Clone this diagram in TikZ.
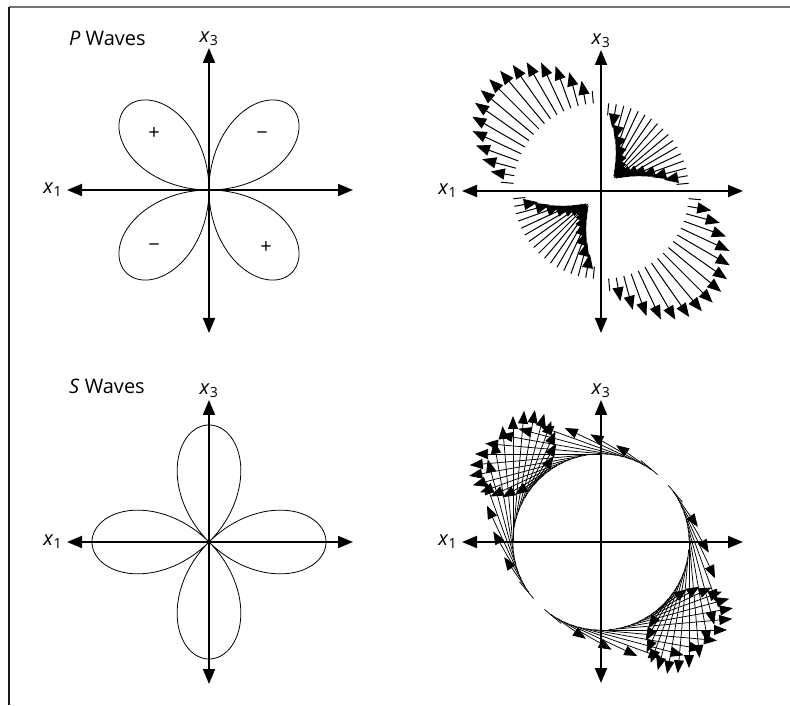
\documentclass[tikz,border=0pt]{standalone}
\usepackage{fontspec}
\setmainfont{Open Sans}
\usetikzlibrary{arrows.meta}

\tikzset{
  eje/.style={line width=1.9pt, {Triangle[length=15pt,width=12pt]}-{Triangle[length=15pt,width=12pt]}},
  lobulo/.style={line width=0.8pt},
  flecha/.style={line width=1pt, -{Triangle[length=14pt,width=11pt]}},
  trazo/.style={line width=1pt},
  flechaS/.style={line width=0.75pt, -{Triangle[length=13pt,width=10pt]}},
  trazoS/.style={line width=0.75pt},
  etiqueta/.style={font=\fontsize{20}{24}\selectfont, inner sep=1pt},
  signo/.style={font=\fontsize{20}{24}\selectfont, inner sep=0pt},
}

\begin{document}
\begin{tikzpicture}[x=1pt,y=1pt]
            \useasboundingbox (0,0) rectangle (790,705);
            % Marco
            \draw[line width=2pt,black!55] (9,698) -- (790,698);
            \draw[line width=1.6pt,black!90] (9,698) -- (9,0);
            % Ondas P: lobulos
            \begin{scope}[shift={(209,515)}]
                \draw[eje] (144,0) -- (-142,0) node (x1a) [etiqueta,left=3pt] {\textit{x}\textsubscript{1}};
                \draw[eje] (0,-143) -- (0,142) node (x3a) [etiqueta,above=0pt] {\textit{x}\textsubscript{3}};
                \draw[lobulo] plot[domain=0:360,samples=721,smooth] (\x:{117*abs(sin(2*\x))});
                \node (masA) [signo] at (-55,56) {+};
                \node (menosA) [signo] at (53,54) {−};
                \node (menosB) [signo] at (-55,-58) {−};
                \node (masB) [signo] at (57,-58) {+};
                \node (tituloP) [etiqueta,anchor=west] at (-141,152) {\textit{P} Waves};
            \end{scope}
            % Ondas P: desplazamientos
            \begin{scope}[shift={(601,514)}]
                \draw[eje] (142,0) -- (-139,0) node (x1b) [etiqueta,left=3pt] {\textit{x}\textsubscript{1}};
                \draw[eje] (0,-142) -- (0,141) node (x3b) [etiqueta,above=0pt] {\textit{x}\textsubscript{3}};
                \foreach \a in {0,5,...,355}{
                    \pgfmathsetmacro{\m}{-sin(2*\a)}
                    \pgfmathtruncatemacro{\punta}{abs(\m)>0.25}
                    \ifnum\punta=1
                        \draw[flecha] (\a:88) -- (\a:{88+70*\m});
                    \else
                        \draw[trazo] (\a:88) -- (\a:{88+70*\m});
                    \fi
                }
            \end{scope}
            % Ondas S: lobulos
            \begin{scope}[shift={(209,163)}]
                \draw[eje] (144,0) -- (-142,0) node (x1c) [etiqueta,left=3pt] {\textit{x}\textsubscript{1}};
                \draw[eje] (0,-142) -- (0,142) node (x3c) [etiqueta,above=0pt] {\textit{x}\textsubscript{3}};
                \draw[lobulo] plot[domain=0:360,samples=721,smooth] (\x:{117*abs(cos(2*\x))});
                \node (tituloS) [etiqueta,anchor=west] at (-141,156) {\textit{S} Waves};
            \end{scope}
            % Ondas S: desplazamientos
            \begin{scope}[shift={(601,163)}]
                \draw[eje] (142,0) -- (-139,0) node (x1d) [etiqueta,left=3pt] {\textit{x}\textsubscript{1}};
                \draw[eje] (0,-141) -- (0,142) node (x3d) [etiqueta,above=0pt] {\textit{x}\textsubscript{3}};
                \foreach \a in {0,5,...,355}{
                    \pgfmathsetmacro{\m}{-cos(2*\a)}
                    \pgfmathtruncatemacro{\punta}{abs(\m)>0.25}
                    \ifnum\punta=1
                        \draw[flechaS] (\a:88) -- ++({-126*\m*sin(\a)},{126*\m*cos(\a)});
                    \else
                        \draw[trazoS] (\a:88) -- ++({-126*\m*sin(\a)},{126*\m*cos(\a)});
                    \fi
                }
            \end{scope}
        \end{tikzpicture}
\end{document}
